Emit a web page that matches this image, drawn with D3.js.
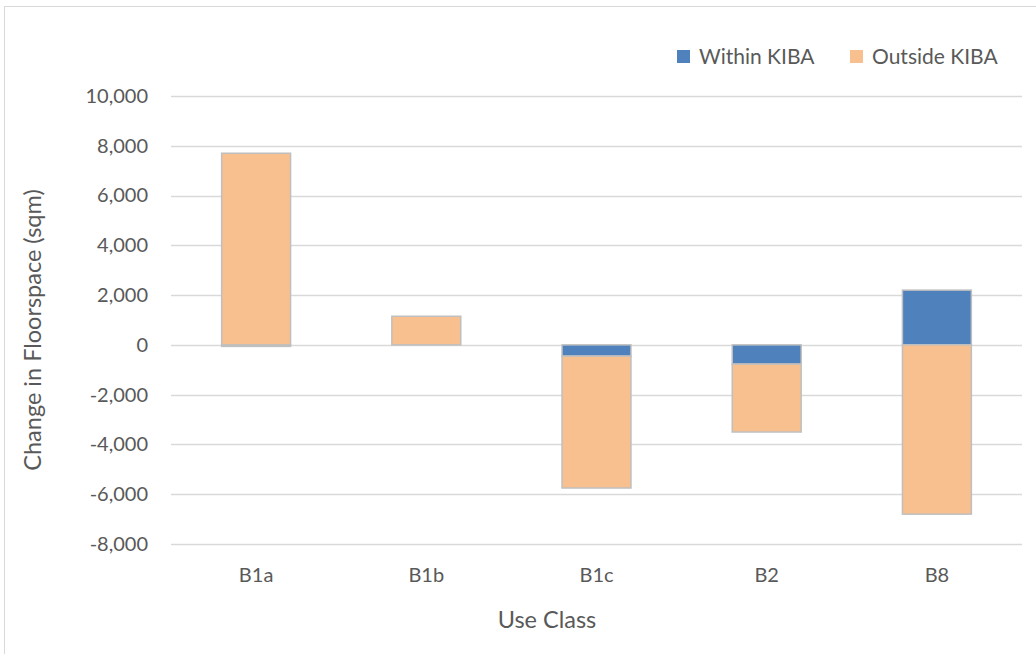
<!DOCTYPE html>
<html>
<head>
<meta charset="utf-8">
<script src="https://cdn.jsdelivr.net/npm/d3@7"></script>
<style>
  body { margin: 0; background: #fff; }
  text { font-family: Lato, "Open Sans", sans-serif; fill: #595959; }
</style>
</head>
<body>
<div id="chart"></div>
<script>
// data
const useClasses = ["B1a", "B1b", "B1c", "B2", "B8"];
const withinKIBA = [-60, 0, -450, -770, 2200];
const outsideKIBA = [7700, 1150, -5300, -2730, -6800];
const yTicks = [-8000, -6000, -4000, -2000, 0, 2000, 4000, 6000, 8000, 10000];
const seriesNames = ["Within KIBA", "Outside KIBA"];
const colors = ["#4f81bd", "#f9c08f"];

const W = 1036, H = 654;
const margin = {top: 96, right: 14, bottom: 110, left: 171};
const width = W - margin.left - margin.right;
const height = H - margin.top - margin.bottom;

const svg = d3.select("#chart").append("svg")
    .attr("width", W)
    .attr("height", H);

// chart border
svg.append("rect")
    .attr("x", 4.5).attr("y", 6.5)
    .attr("width", W + 10).attr("height", H + 10)
    .attr("fill", "none")
    .attr("stroke", "#d9d9d9");

const g = svg.append("g")
    .attr("transform", "translate(" + margin.left + "," + margin.top + ")");

const x = d3.scaleBand()
    .domain(useClasses)
    .range([0, width])
    .paddingInner(0.595)
    .paddingOuter(0.2975);

const y = d3.scaleLinear()
    .domain([-8000, 10000])
    .range([height, 0]);

// gridlines
g.append("g")
    .selectAll("line")
    .data(yTicks)
    .enter().append("line")
    .attr("x1", 0).attr("x2", width)
    .attr("y1", d => Math.round(y(d)) + 0.5)
    .attr("y2", d => Math.round(y(d)) + 0.5)
    .attr("stroke", "#d9d9d9")
    .attr("stroke-width", 1.3);

// y axis labels (Excel style hyphen minus)
const fmt = d => d3.format(",")(d).replace("\u2212", "-");
const yAxis = g.append("g")
    .call(d3.axisLeft(y).tickValues(yTicks).tickFormat(fmt).tickSize(0).tickPadding(23));
yAxis.select(".domain").remove();
yAxis.selectAll("text")
    .style("font-size", "20px")
    .attr("fill", "#595959");

// x axis labels
const xAxis = g.append("g")
    .attr("transform", "translate(0," + height + ")")
    .call(d3.axisBottom(x).tickSize(0).tickPadding(24));
xAxis.select(".domain").remove();
xAxis.selectAll("text")
    .style("font-size", "20px")
    .attr("fill", "#595959");

// stacked bars (diverging)
const table = useClasses.map((c, i) => ({cls: c, w: withinKIBA[i], o: outsideKIBA[i]}));
const stack = d3.stack()
    .keys(["w", "o"])
    .offset(d3.stackOffsetDiverging);
const stacked = stack(table);

g.selectAll(".series")
    .data(stacked)
    .enter().append("g")
    .attr("fill", (d, i) => colors[i])
  .selectAll("rect")
    .data(d => d)
    .enter().append("rect")
    .attr("x", d => x(d.data.cls))
    .attr("y", d => y(Math.max(d[0], d[1])))
    .attr("width", x.bandwidth())
    .attr("height", d => Math.abs(y(d[0]) - y(d[1])))
    .attr("stroke", "#bfbfbf")
    .attr("stroke-width", 1.5);

// axis titles
svg.append("text")
    .attr("text-anchor", "middle")
    .attr("transform", "translate(41," + 330 + ") rotate(-90)")
    .style("font-size", "23.5px")
    .text("Change in Floorspace (sqm)");

svg.append("text")
    .attr("text-anchor", "middle")
    .attr("x", 547)
    .attr("y", 628)
    .style("font-size", "23.5px")
    .text("Use Class");

// legend
const legend = svg.append("g").attr("transform", "translate(677,50)");
const legendX = [0, 173];
seriesNames.forEach((name, i) => {
    const item = legend.append("g").attr("transform", "translate(" + legendX[i] + ",0)");
    item.append("rect")
        .attr("width", 13).attr("height", 13)
        .attr("fill", colors[i]);
    item.append("text")
        .attr("x", 22).attr("y", 14)
        .style("font-size", "21px")
        .text(name);
});
</script>
</body>
</html>
